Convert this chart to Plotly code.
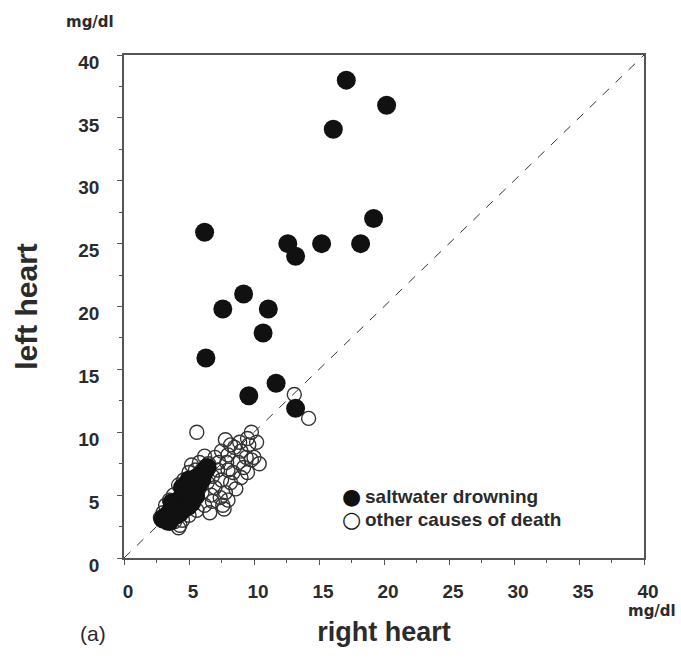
import plotly.graph_objects as go

# saltwater drowning (filled circles)
drown_x = [17.1, 20.2, 16.1, 19.2, 6.2, 12.6, 13.2, 15.2, 18.2, 9.2, 7.6, 11.1, 10.7, 6.3, 11.7, 9.6, 13.2,
           3.0, 3.2, 3.4, 3.5, 3.6, 3.8, 3.9, 4.0, 4.1, 4.2, 4.3, 4.4, 4.5, 4.6, 4.7, 4.8, 4.9, 5.0, 5.1, 5.2,
           5.3, 5.4, 5.5, 5.6, 5.7, 5.8, 5.9, 6.0, 6.2, 6.4, 3.7, 4.0, 4.3, 4.6, 4.9, 5.2, 5.5, 5.0, 4.5, 3.5]
drown_y = [38.0, 36.0, 34.1, 27.0, 25.9, 25.0, 24.0, 25.0, 25.0, 21.0, 19.8, 19.8, 17.9, 15.9, 13.9, 12.9, 11.9,
           3.1, 3.3, 3.2, 3.6, 3.4, 3.9, 3.5, 4.2, 3.8, 4.5, 4.0, 4.8, 4.3, 5.0, 4.5, 5.4, 4.7, 5.6, 5.0, 5.8,
           5.2, 6.1, 5.5, 6.4, 5.8, 6.0, 6.6, 6.3, 6.9, 7.2, 4.4, 3.4, 3.6, 3.9, 4.1, 4.4, 4.9, 6.2, 5.6, 2.9]

# other causes of death (open circles)
other_x = [5.6, 7.8, 8.2, 9.8, 9.6, 10.4, 7.7, 4.2, 14.2, 13.1,
           6.5, 7.0, 7.5, 8.0, 8.5, 9.0, 9.5, 8.8, 9.2, 8.0, 7.2, 6.8, 7.5, 8.2, 9.0, 9.5, 10.0, 8.6, 7.8, 7.0,
           6.4, 6.0, 5.8, 5.5, 5.0, 4.6, 4.2, 3.8, 3.5, 3.2, 3.0, 2.8, 3.3, 3.9, 4.5, 5.0, 5.6, 6.2, 6.8, 7.4,
           8.0, 7.6, 6.6, 8.4, 9.4, 10.2, 7.9, 6.2, 5.2, 4.6, 5.4, 6.0, 7.3, 8.9, 9.8, 6.7, 5.9, 4.9, 3.6, 4.3]
other_y = [10.0, 9.4, 9.0, 10.0, 9.0, 7.5, 3.9, 2.4, 11.1, 13.0,
           7.5, 8.0, 8.5, 8.2, 8.8, 8.5, 9.5, 7.6, 7.2, 7.0, 7.0, 6.5, 6.2, 6.0, 6.4, 6.8, 8.0, 5.5, 5.2, 5.6,
           6.0, 7.0, 7.6, 7.0, 6.8, 6.2, 5.8, 5.0, 4.6, 4.2, 3.6, 3.2, 2.8, 2.9, 3.0, 3.4, 3.8, 4.2, 4.5, 4.8,
           4.6, 4.2, 3.6, 6.8, 8.0, 9.2, 7.6, 8.1, 7.4, 3.8, 4.6, 5.2, 7.6, 9.2, 7.8, 5.0, 6.0, 5.3, 3.4, 2.6]

identity = [0, 40]
tick_vals = [0, 5, 10, 15, 20, 25, 30, 35, 40]
tick_text = [str(v) for v in tick_vals]

FONT = "Liberation Sans, Arial, sans-serif"
TXT = "#2b2b2b"

fig = go.Figure()
fig.add_trace(go.Scatter(x=identity, y=identity, mode="lines", showlegend=False,
                         line=dict(color="#333333", width=1, dash="dash"), hoverinfo="skip"))
fig.add_trace(go.Scatter(x=other_x, y=other_y, mode="markers", name="other causes of death", showlegend=False,
                         marker=dict(symbol="circle-open", size=14, color="#333333", line=dict(width=1.4))))
fig.add_trace(go.Scatter(x=drown_x, y=drown_y, mode="markers", name="saltwater drowning", showlegend=False,
                         marker=dict(symbol="circle", size=19, color="#111111")))

axis_common = dict(range=[0, 40], tickvals=tick_vals, ticktext=tick_text, showgrid=False, zeroline=False,
                   showline=True, linecolor="#555555", linewidth=1.5, mirror=True,
                   ticks="outside", ticklen=5, tickcolor="#555555", tickwidth=1.2,
                   tickfont=dict(family=FONT, size=19, color=TXT, weight="bold"),
                   minor=dict(dtick=2.5, ticks="outside", ticklen=3, tickcolor="#555555", tickwidth=1),
                   automargin=False)

fig.update_xaxes(**axis_common, ticklabelstandoff=10, ticklabelshift=4,
                 title=dict(text="right heart", standoff=22,
                            font=dict(family=FONT, size=27, color=TXT, weight="bold")))
fig.update_yaxes(**axis_common, ticklabelstandoff=14, ticklabelshift=7,
                 title=dict(text="left heart", standoff=32,
                            font=dict(family=FONT, size=30, color=TXT, weight="bold")))

MG = "DejaVu Sans, sans-serif"
fig.add_annotation(text="mg/dl", xref="paper", yref="paper", x=-0.065, y=1.066, showarrow=False,
                   xanchor="center", yanchor="middle",
                   font=dict(family=MG, size=15, color=TXT, weight="bold"))
fig.add_annotation(text="mg/dl", xref="paper", yref="paper", x=1.015, y=-0.105, showarrow=False,
                   xanchor="center", yanchor="middle",
                   font=dict(family=MG, size=15, color=TXT, weight="bold"))
fig.add_annotation(text="(a)", xref="paper", yref="paper", x=-0.06, y=-0.151, showarrow=False,
                   xanchor="center", yanchor="middle",
                   font=dict(family=FONT, size=21, color=TXT))

# legend (drawn as text so the symbol sits right against the label, as in the original)
legend_labels = ["saltwater drowning", "other causes of death"]
legend_symbols = ["\u25CF", "\u25CB"]
leg_y = [0.122, 0.076]
for sym, lab, yy in zip(legend_symbols, legend_labels, leg_y):
    fig.add_annotation(text=sym, xref="paper", yref="paper", x=0.438, y=yy, showarrow=False,
                       xanchor="center", yanchor="middle",
                       font=dict(family="DejaVu Sans, sans-serif", size=22, color="#111111"))
    fig.add_annotation(text=lab, xref="paper", yref="paper", x=0.459, y=yy, showarrow=False,
                       xanchor="left", yanchor="middle",
                       font=dict(family=FONT, size=19, color=TXT, weight="bold"))

fig.update_layout(
    width=681, height=660,
    margin=dict(l=124, r=37, t=55, b=102),
    paper_bgcolor="white", plot_bgcolor="white",
    showlegend=False,
)

fig.write_html("out.html")
